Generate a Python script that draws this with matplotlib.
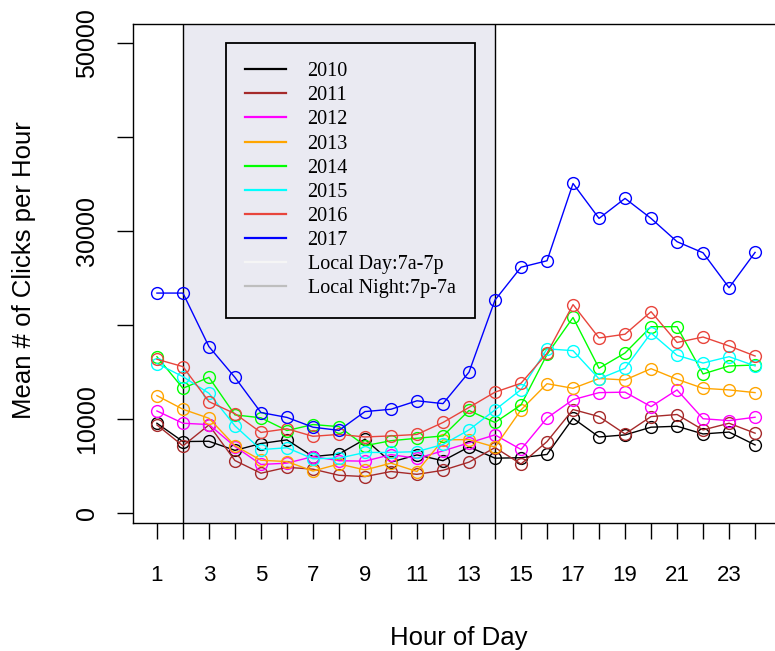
"""
Hourly click volume by year
===========================
Mean number of clicks per hour of day, one line per year, with the
local night window shaded.
"""

import matplotlib
matplotlib.use("Agg")
import matplotlib.pyplot as plt
from matplotlib.lines import Line2D


HOURS = list(range(1, 25))

# Mean clicks per hour
Y2010 = [9540, 7590, 7620, 6650, 7380, 7770, 5990, 6260, 7840, 5400, 6170, 5550,
         7020, 5820, 5870, 6220, 10070, 8080, 8300, 9120, 9220, 8400, 8600, 7230]
Y2011 = [9360, 7130, 9360, 5570, 4220, 4850, 4650, 4000, 3860, 4400, 4100, 4530,
         5400, 6950, 5200, 7590, 11000, 10250, 8400, 10250, 10470, 8830, 9540, 8480]
Y2012 = [10850, 9540, 9400, 7060, 5150, 5290, 5990, 5550, 5500, 6200, 5800, 6600,
         7450, 8300, 6750, 10100, 12050, 12800, 12850, 11310, 13090, 10020, 9820, 10180]
Y2013 = [12480, 11030, 10070, 7150, 5600, 5460, 4450, 5200, 4570, 5290, 4400, 7770,
         7800, 7000, 10960, 13750, 13260, 14300, 14150, 15350, 14220, 13260, 13090, 12800]
Y2014 = [16630, 13260, 14430, 10430, 10120, 8760, 9400, 9180, 7150, 7680, 7940, 8190,
         10900, 9620, 11490, 16860, 20800, 15390, 17020, 19820, 19820, 14790, 15640, 15740]
Y2015 = [15900, 14500, 12730, 9260, 6730, 6930, 5760, 5820, 6430, 6430, 6520, 7280,
         8830, 10960, 13120, 17460, 17270, 14270, 15390, 19150, 16770, 15950, 16630, 15640]
Y2016 = [16350, 15570, 11840, 10560, 8560, 8950, 8150, 8350, 8080, 8190, 8350, 9620,
         11220, 12850, 13800, 16990, 22170, 18620, 19020, 21420, 18140, 18720, 17770, 16700]
Y2017 = [23400, 23400, 17700, 14420, 10680, 10160, 9120, 8780, 10780, 11030, 11930, 11630,
         14980, 22660, 26150, 26840, 35070, 31350, 33480, 31350, 28870, 27690, 23970, 27730]

YEARS = ["2010", "2011", "2012", "2013", "2014", "2015", "2016", "2017"]
SERIES = [Y2010, Y2011, Y2012, Y2013, Y2014, Y2015, Y2016, Y2017]
COLORS = ["black", "#A52A2A", "#FF00FF", "#FFA500", "#00FF00", "#00FFFF", "#E8453C", "#0000FF"]

# shaded window (hour positions) and extra legend entries
SHADE_START, SHADE_END = 2, 14
EXTRA_LABELS = ["Local Day:7a-7p", "Local Night:7p-7a"]
EXTRA_COLORS = ["#F5F5F5", "#BEBEBE"]

Y_TICKS = [0, 10000, 20000, 30000, 40000, 50000]
Y_TICK_LABELS = ["0", "10000", "", "30000", "", "50000"]
X_TICK_LABELS = [str(h) if h % 2 == 1 else "" for h in HOURS]

SANS = ["Liberation Sans", "DejaVu Sans"]
SERIF = ["Liberation Serif", "DejaVu Serif"]


def draw(output_path: str = "out.png") -> str:
    W, H = 775, 651
    fig = plt.figure(figsize=(W / 100, H / 100), dpi=100)

    # plot region in pixels: left 133, top 24, bottom 522.7, right ~779 (off canvas)
    left, right, top, bottom = 133, 779, 24, 522.7
    ax = fig.add_axes([left / W, 1 - bottom / H, (right - left) / W, (bottom - top) / H])

    ax.axvspan(SHADE_START, SHADE_END, color="#EAEAF2", zorder=0, lw=0)
    for xv in (SHADE_START, SHADE_END):
        ax.axvline(xv, color="black", lw=1.0, zorder=1)

    for vals, col in zip(SERIES, COLORS):
        ax.plot(HOURS, vals, color=col, lw=1.0, marker="o", ms=8.5,
                mfc="none", mec=col, mew=1.0, zorder=2)

    ax.set_xlim(0.08, 24.92)
    ax.set_ylim(-1050, 52050)

    ax.set_xticks(HOURS)
    ax.set_xticklabels(X_TICK_LABELS, fontsize=16, family=SANS)
    ax.set_yticks(Y_TICKS)
    ax.set_yticklabels(Y_TICK_LABELS, fontsize=18, family=SANS,
                       rotation=90, va="center")
    ax.tick_params(axis="x", length=11.2, width=1.0, pad=19)
    ax.tick_params(axis="y", length=11.2, width=1.0, pad=13)

    for sp in ax.spines.values():
        sp.set_linewidth(1.0)

    ax.set_xlabel("Hour of Day", fontsize=18.5, family=SANS)
    ax.set_ylabel("Mean # of Clicks per Hour", fontsize=18.5, family=SANS)
    ax.xaxis.set_label_coords(0.505, -0.207)
    ax.yaxis.set_label_coords(-0.150, 0.507)

    handles = [Line2D([], [], color=c, lw=1.6) for c in COLORS + EXTRA_COLORS]
    labels = YEARS + EXTRA_LABELS
    # legend box top-left corner at pixel (226, 43)
    anchor = ((226 - left) / (right - left), (bottom - 43) / (bottom - top))
    leg = ax.legend(handles, labels, loc="upper left", bbox_to_anchor=anchor,
                    prop={"family": SERIF, "size": 14.5}, frameon=True,
                    fancybox=False, handlelength=2.05, handletextpad=1.05,
                    borderpad=0.95, labelspacing=0.25, borderaxespad=0)
    frame = leg.get_frame()
    frame.set_edgecolor("black")
    frame.set_facecolor("#EAEAF2")
    frame.set_alpha(1)
    frame.set_linewidth(1.3)

    fig.savefig(output_path, dpi=100)
    plt.close(fig)
    return output_path


if __name__ == "__main__":
    draw()
